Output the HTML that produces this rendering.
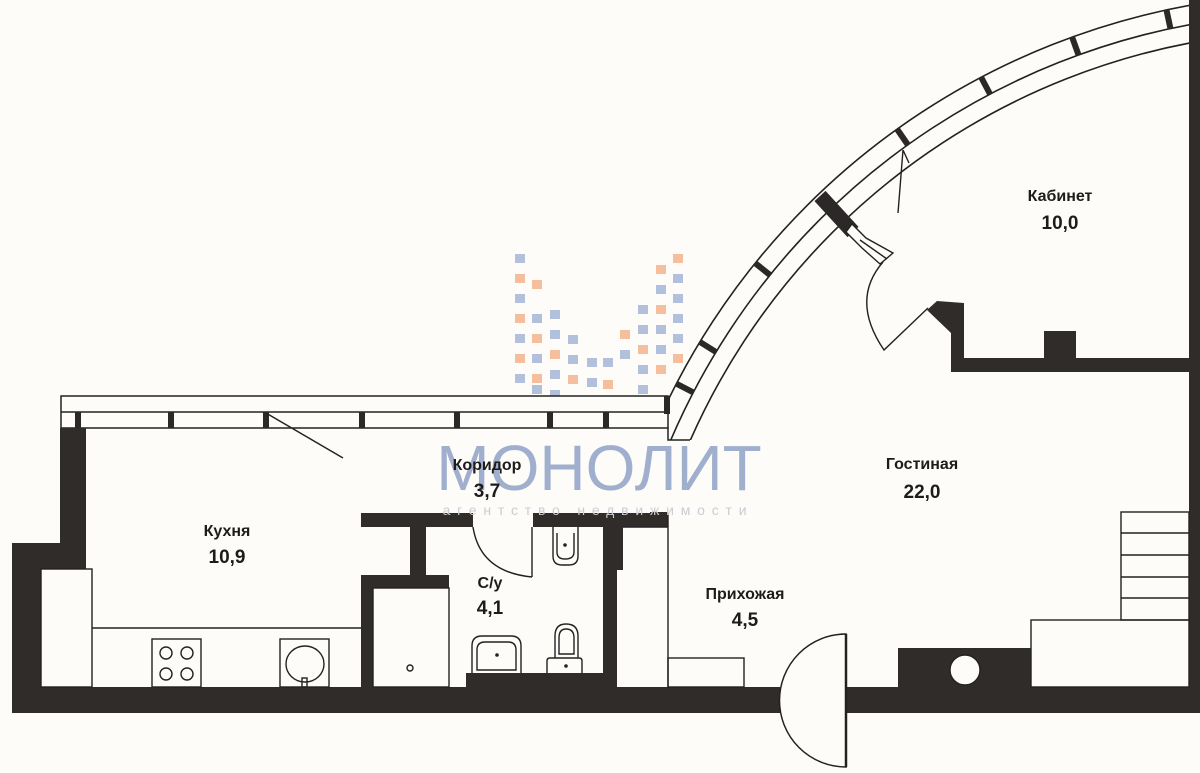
<!DOCTYPE html>
<html><head><meta charset="utf-8"><style>
html,body{margin:0;padding:0;background:#fdfcf8;width:1200px;height:773px;overflow:hidden;}
svg{display:block}
text{font-family:"Liberation Sans",Arial,sans-serif;font-weight:bold;fill:#1e1c1b;text-anchor:middle}
</style></head><body>
<svg width="1200" height="773" viewBox="0 0 1200 773" xmlns="http://www.w3.org/2000/svg">
<rect width="1200" height="773" fill="#fdfcf8"/>
<defs><clipPath id="ac"><rect x="669" y="-10" width="520" height="450"/></clipPath></defs>

<g opacity="0.85">
<g fill="#a7b6d8">
<rect x="515" y="254" width="10" height="9"/><rect x="515" y="294" width="10" height="9"/><rect x="515" y="334" width="10" height="9"/><rect x="515" y="374" width="10" height="9"/>
<rect x="532" y="314" width="10" height="9"/><rect x="532" y="354" width="10" height="9"/><rect x="532" y="385" width="10" height="9"/>
<rect x="550" y="310" width="10" height="9"/><rect x="550" y="330" width="10" height="9"/><rect x="550" y="370" width="10" height="9"/><rect x="550" y="390" width="10" height="9"/>
<rect x="568" y="335" width="10" height="9"/><rect x="568" y="355" width="10" height="9"/>
<rect x="587" y="358" width="10" height="9"/><rect x="587" y="378" width="10" height="9"/>
<rect x="603" y="358" width="10" height="9"/>
<rect x="620" y="350" width="10" height="9"/>
<rect x="638" y="305" width="10" height="9"/><rect x="638" y="325" width="10" height="9"/><rect x="638" y="365" width="10" height="9"/><rect x="638" y="385" width="10" height="9"/>
<rect x="656" y="285" width="10" height="9"/><rect x="656" y="325" width="10" height="9"/><rect x="656" y="345" width="10" height="9"/>
<rect x="673" y="274" width="10" height="9"/><rect x="673" y="294" width="10" height="9"/><rect x="673" y="314" width="10" height="9"/><rect x="673" y="334" width="10" height="9"/>
</g>
<g fill="#f4b48c">
<rect x="515" y="274" width="10" height="9"/><rect x="515" y="314" width="10" height="9"/><rect x="515" y="354" width="10" height="9"/>
<rect x="532" y="280" width="10" height="9"/><rect x="532" y="334" width="10" height="9"/><rect x="532" y="374" width="10" height="9"/>
<rect x="550" y="350" width="10" height="9"/>
<rect x="568" y="375" width="10" height="9"/>
<rect x="603" y="380" width="10" height="9"/>
<rect x="620" y="330" width="10" height="9"/>
<rect x="638" y="345" width="10" height="9"/>
<rect x="656" y="265" width="10" height="9"/><rect x="656" y="305" width="10" height="9"/><rect x="656" y="365" width="10" height="9"/>
<rect x="673" y="254" width="10" height="9"/><rect x="673" y="354" width="10" height="9"/>
</g>
</g>

<g fill="none" stroke="#222" stroke-width="1.5">
<rect x="61" y="396" width="607" height="32" fill="#fdfcf8"/>
<line x1="61" y1="412" x2="668" y2="412"/>
</g>
<g fill="#2b2827">
<rect x="75" y="412" width="6" height="16"/><rect x="168" y="412" width="6" height="16"/><rect x="263" y="412" width="6" height="16"/><rect x="359" y="412" width="6" height="16"/><rect x="454" y="412" width="6" height="16"/><rect x="547" y="412" width="6" height="16"/><rect x="603" y="412" width="6" height="16"/><rect x="664" y="396" width="6" height="18"/>
</g>
<line x1="266" y1="413" x2="343" y2="458" stroke="#222" stroke-width="1.5"/>
<polyline points="668,428 668,440 690,440" fill="none" stroke="#222" stroke-width="1.5"/>

<g clip-path="url(#ac)" fill="none" stroke="#222" stroke-width="1.6">
<circle cx="1318" cy="717" r="723"/>
<circle cx="1318" cy="717" r="704"/>
<circle cx="1318" cy="717" r="686"/>
</g>
<g stroke="#2b2827" stroke-width="6" fill="none">
<line x1="1170.5" y1="28.7" x2="1166.5" y2="10.1"/>
<line x1="1078.6" y1="55.2" x2="1072.2" y2="37.4"/>
<line x1="990" y1="94" x2="981" y2="77"/>
<line x1="908" y1="145" x2="897" y2="129"/>
<line x1="770" y1="275" x2="755" y2="263"/>
<line x1="716" y1="352" x2="700" y2="342"/>
<line x1="693.5" y1="392.5" x2="677" y2="384"/>
<line x1="853" y1="232" x2="820" y2="196" stroke-width="15"/>
</g>
<g stroke="#222" stroke-width="1.4" fill="none">
<polygon points="852,224 866,238 893,253 880,264 862,248 846,232" fill="#fdfcf8"/>
<line x1="860" y1="240" x2="887" y2="259"/>
<line x1="903" y1="150" x2="898" y2="213"/>
<line x1="903" y1="150" x2="909" y2="163"/>
<path d="M883,262 Q850,300 884,350 L928,308"/>
</g>
<polygon fill="#302c2a" points="927,310 937,301 964,303 964,358 1044,358 1044,331 1076,331 1076,358 1189,358 1189,372 951,372 951,333"/>
<rect x="1189" y="0" width="11" height="713" fill="#302c2a"/>

<polygon fill="#302c2a" points="60,428 86,428 86,569 41,569 41,687 1200,687 1200,713 12,713 12,543 60,543"/>
<g fill="none" stroke="#222" stroke-width="1.4">
<rect x="41" y="569" width="51" height="118"/>
<line x1="92" y1="628" x2="361" y2="628"/>
<rect x="152" y="639" width="49" height="48"/>
<circle cx="166" cy="653" r="6"/><circle cx="187" cy="653" r="6"/><circle cx="166" cy="674" r="6"/><circle cx="187" cy="674" r="6"/>
<rect x="280" y="639" width="49" height="48"/>
<ellipse cx="305" cy="664" rx="19" ry="18"/>
<rect x="302" y="678" width="5" height="9"/>
</g>

<g fill="#302c2a">
<rect x="361" y="513" width="112" height="14"/>
<rect x="410" y="513" width="16" height="70"/>
<rect x="361" y="575" width="88" height="13"/>
<rect x="361" y="575" width="12" height="112"/>
<rect x="533" y="513" width="135" height="14"/>
<rect x="603" y="513" width="20" height="57"/>
<rect x="603" y="513" width="14" height="174"/>
<rect x="466" y="673" width="140" height="14"/>
<rect x="650" y="512" width="18" height="14"/>
<rect x="898" y="648" width="133" height="40"/>
</g>
<circle cx="965" cy="670" r="15" fill="#fdfcf8" stroke="#222" stroke-width="1.4"/>
<g fill="none" stroke="#222" stroke-width="1.4">
<rect x="373" y="588" width="76" height="99"/>
<circle cx="410" cy="668" r="3"/>
<line x1="532" y1="527" x2="532" y2="577"/>
<path d="M473,527 Q480,572 532,577"/>
<path d="M553,527 L553,556 Q553,565 562,565 L569,565 Q578,565 578,556 L578,527"/>
<path d="M557,533 L557,552 Q557,559 565,559 Q574,559 574,552 L574,533"/>
<path d="M472,673 L472,646 Q472,636 482,636 L511,636 Q521,636 521,646 L521,673"/>
<path d="M477,670 L477,650 Q477,642 485,642 L508,642 Q516,642 516,650 L516,670 Z"/>
<path d="M555,658 L555,636 Q555,624 566,624 Q578,624 578,636 L578,658"/>
<path d="M559,654 L559,638 Q559,629 566,629 Q574,629 574,638 L574,654 Z"/>
<path d="M547,673 L547,661 Q547,658 550,658 L579,658 Q582,658 582,661 L582,673"/>
<line x1="623" y1="527" x2="668" y2="527"/>
<line x1="668" y1="513" x2="668" y2="687"/>
<rect x="668" y="658" width="76" height="29"/>
<rect x="1031" y="620" width="158" height="67"/>
<rect x="1121" y="512" width="68" height="108"/>
<line x1="1121" y1="533" x2="1189" y2="533"/><line x1="1121" y1="555" x2="1189" y2="555"/><line x1="1121" y1="577" x2="1189" y2="577"/><line x1="1121" y1="598" x2="1189" y2="598"/>
</g>
<circle cx="565" cy="545" r="1.8" fill="#222"/><circle cx="497" cy="655" r="1.8" fill="#222"/><circle cx="566" cy="666" r="1.8" fill="#222"/>
<rect x="780" y="686" width="66" height="28" fill="#fdfcf8"/>
<path d="M846,634 A66,66 0 0 0 846,767 Z" fill="#fdfcf8" stroke="#222" stroke-width="1.5"/>
<line x1="846" y1="634" x2="846" y2="767" stroke="#222" stroke-width="2.5"/>

<text x="599" y="490" style="font-weight:normal;font-size:64px;fill:#8ea1c6;fill-opacity:0.85">МОНОЛИТ</text>
<text x="598" y="515" style="font-weight:normal;font-size:14px;fill:#c8ccd4;letter-spacing:6.8px">агентство недвижимости</text>

<text x="1060" y="201" font-size="16">Кабинет</text>
<text x="1060" y="229" font-size="19">10,0</text>
<text x="922" y="469" font-size="16">Гостиная</text>
<text x="922" y="498" font-size="19">22,0</text>
<text x="487" y="470" font-size="16">Коридор</text>
<text x="487" y="497" font-size="19">3,7</text>
<text x="227" y="536" font-size="16">Кухня</text>
<text x="227" y="563" font-size="19">10,9</text>
<text x="490" y="588" font-size="16">С/у</text>
<text x="490" y="614" font-size="19">4,1</text>
<text x="745" y="599" font-size="16">Прихожая</text>
<text x="745" y="626" font-size="19">4,5</text>
</svg>
</body></html>
